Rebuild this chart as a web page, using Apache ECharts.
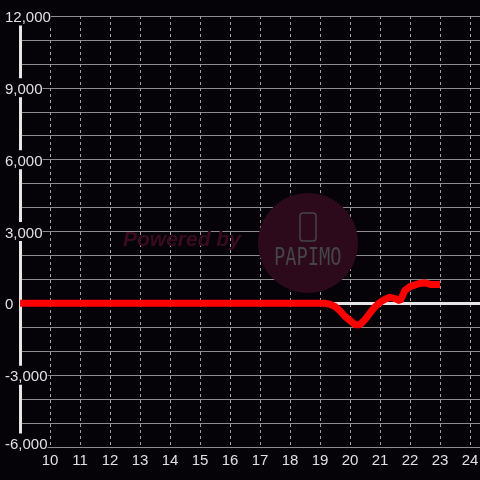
<!DOCTYPE html>
<html><head><meta charset="utf-8">
<script src="https://cdn.jsdelivr.net/npm/echarts@6/dist/echarts.min.js"></script>
<style>html,body{margin:0;padding:0;background:#050308;}#c{width:480px;height:480px;}</style>
</head><body><div id="c"></div>
<script>
var hours = [9, 19.0, 19.17, 19.33, 19.5, 19.67, 19.83, 20.0, 20.17, 20.33, 20.5, 20.67, 20.83, 21.0, 21.17, 21.33, 21.5, 21.67, 21.83, 22.0, 22.17, 22.33, 22.5, 22.67, 22.83, 23.0];
var values = [0, 0, 0, -40, -130, -320, -540, -720, -890, -890, -680, -400, -150, 40, 170, 250, 200, 100, 540, 700, 770, 830, 860, 790, 790, 790];
var xTicks = [10, 11, 12, 13, 14, 15, 16, 17, 18, 19, 20, 21, 22, 23, 24];
var yLabelTicks = [-6000, -3000, 0, 3000, 6000, 9000, 12000];

var chart = echarts.init(document.getElementById('c'));
chart.setOption({
  backgroundColor: '#050308',
  animation: false,
  grid: {left: 20, right: 0, top: 16, bottom: 33, containLabel: false, outerBoundsMode: 'none'},
  xAxis: {
    type: 'value', min: 9, max: 24.333, interval: 1, position: 'bottom',
    axisLine: {show: false}, axisTick: {show: false},
    axisLabel: {color: '#e0e0e0', fontSize: 15, fontFamily: 'Liberation Sans, Arial', margin: 6,
      formatter: function (v) { return xTicks.indexOf(v) >= 0 ? String(v) : ''; }},
    splitLine: {show: true, lineStyle: {color: '#a0a0a0', type: [3, 3], width: 1}}
  },
  yAxis: {
    type: 'value', min: -6000, max: 12000, interval: 1000,
    axisLine: {show: true, lineStyle: {color: '#e6e6e6', width: 3}},
    axisTick: {show: false},
    axisLabel: {color: '#e0e0e0', fontSize: 15, fontFamily: 'Liberation Sans, Arial', margin: 15, align: 'left',
      backgroundColor: '#050308', padding: [4, 0, 0, 0],
      formatter: function (v) {
        if (yLabelTicks.indexOf(v) < 0) return '';
        var s = v.toLocaleString('en-US');
        return v === -6000 ? '{b|' + s + '}' : s;
      },
      rich: {b: {color: '#e0e0e0', fontSize: 15, fontFamily: 'Liberation Sans, Arial', padding: [0, 0, 8, 0]}}},
    splitLine: {show: true, lineStyle: {color: '#8c8c8c', width: 1}}
  },
  graphic: [
    {type: 'text', left: 123, top: 230, z: 1, style: {text: 'Powered by', fill: '#3a0b1f', font: 'italic bold 21px Liberation Sans, Arial'}},
    {type: 'circle', shape: {cx: 308, cy: 243, r: 50}, z: 1, style: {fill: '#2c0a1c'}},
    {type: 'rect', shape: {x: 300, y: 213, width: 16, height: 28, r: 3}, z: 1, style: {fill: 'none', stroke: '#454545', lineWidth: 1.5}},
    {type: 'text', x: 274, y: 247, scaleX: 0.78, z: 1, style: {text: 'PAPIMO', fill: '#454545', font: '24px DejaVu Sans Mono'}}
  ],
  series: [{
    type: 'line', showSymbol: false, smooth: false, z: 3,
    lineStyle: {color: '#ff0000', width: 7},
    data: hours.map(function (h, i) { return [h, values[i]]; }),
    markLine: {
      silent: true, symbol: 'none', z: 1, label: {show: false},
      lineStyle: {color: '#e6e6e6', width: 3, type: 'solid'},
      data: [{yAxis: 0}]
    }
  }]
});
</script></body></html>
